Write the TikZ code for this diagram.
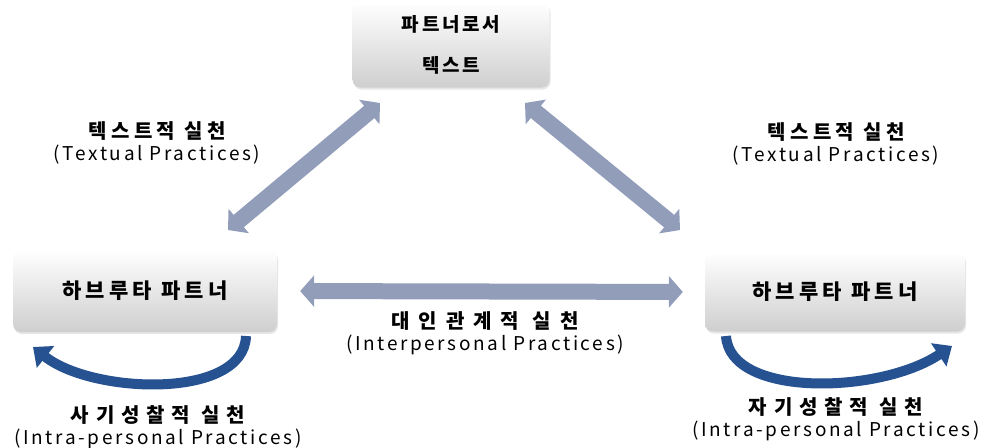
\documentclass[tikz,border=0pt]{standalone}
\usepackage{fontspec}
\setmainfont{Noto Sans CJK KR}
\usetikzlibrary{arrows.meta,shadows}
\definecolor{arrowgray}{RGB}{146,157,186}
\definecolor{loopblue}{RGB}{38,82,146}
\newcommand{\boxfont}{\fontsize{19}{41}\selectfont\bfseries\addfontfeatures{LetterSpace=14}}
\newcommand{\kofont}{\fontsize{20}{22}\selectfont\bfseries\addfontfeatures{LetterSpace=22}}
\newcommand{\enfont}{\fontsize{19}{22}\selectfont\addfontfeatures{LetterSpace=14}}
\tikzset{
  partnerbox/.style={rounded corners=8pt,top color=white,bottom color=gray!38,
    drop shadow={opacity=0.2,shadow xshift=1pt,shadow yshift=-2pt},
    font=\boxfont,align=center,inner sep=0pt},
  practicelabel/.style={align=center,font=\enfont,inner sep=0pt},
  fatarrow/.style={line width=16pt,arrowgray,
    {Triangle[length=14pt,width=31pt]}-{Triangle[length=14pt,width=31pt]}},
  selfarrow/.style={line width=10pt,loopblue,-{Triangle[length=16pt,width=27pt]}},
}
\begin{document}
\begin{tikzpicture}[x=1pt,y=-1pt]
\useasboundingbox (0,0) rectangle (985,447);
% boxes
\node[partnerbox,minimum width=197pt,minimum height=85pt](topbox) at (451,45){파트너로서\\텍스트};
\node[partnerbox,minimum width=264pt,minimum height=82pt](leftbox) at (145,291)
  {\fontsize{21}{25}\selectfont\addfontfeatures{LetterSpace=20}하브루타 파트너};
\node[partnerbox,minimum width=260pt,minimum height=79pt](rightbox) at (835,292)
  {\fontsize{21}{25}\selectfont\addfontfeatures{LetterSpace=20}하브루타 파트너};
% arrow ends
\coordinate (tl) at (380,103);
\coordinate (bl) at (228,230);
\coordinate (tr) at (525,103);
\coordinate (br) at (680,230);
\draw[fatarrow](tl)--(bl);
\draw[fatarrow](tr)--(br);
\draw[fatarrow,shorten <=23pt,shorten >=22pt](leftbox.east)--(rightbox.west);
% self reflection
\coordinate (ltail) at (246,336);
\coordinate (lhead) at (33,347);
\coordinate (rtail) at (726,336);
\coordinate (rhead) at (952,346);
\draw[selfarrow](ltail)..controls(244,400)and(92,394)..(lhead);
\draw[selfarrow](rtail)..controls(730,398)and(880,394)..(rhead);
% labels
\node[practicelabel](textualL) at (157,143){{\kofont 텍스트적 실천}\\(Textual Practices)};
\node[practicelabel](textualR) at (836,144){{\kofont 텍스트적 실천}\\(Textual Practices)};
\node[practicelabel](interp) at (485,333){{\kofont\addfontfeatures{LetterSpace=45}대인관계적 실천}\\(Interpersonal Practices)};
\node[practicelabel](intraL) at (158,427){{\kofont\addfontfeatures{LetterSpace=34}사기성찰적 실천}\\(Intra-personal Practices)};
\node[practicelabel](intraR) at (836,419){{\kofont\addfontfeatures{LetterSpace=34}자기성찰적 실천}\\(Intra-personal Practices)};
\end{tikzpicture}
\end{document}
